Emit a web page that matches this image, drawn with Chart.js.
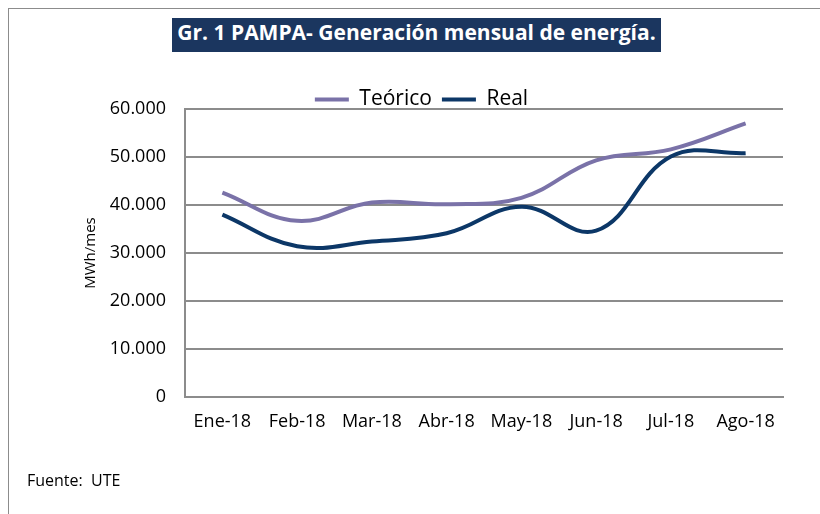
<!DOCTYPE html>
<html>
<head>
<meta charset="utf-8">
<script src="https://cdn.jsdelivr.net/npm/chart.js@4/dist/chart.umd.min.js"></script>
<style>
  body { margin: 0; background: #fff; }
  #wrap { position: relative; width: 820px; height: 514px; overflow: hidden; }
  #frame { position: absolute; left: 8px; top: 8px; width: 900px; height: 600px; border: 1px solid #8c8c8c; }
  #title { position: absolute; left: 172px; top: 18px; width: 489px; height: 34px; line-height: 34px;
    background: #1b365f; color: #fff; font: bold 21px "Open Sans", sans-serif; text-align: center; }
  #source { position: absolute; left: 27px; top: 469px; font: 16px "Open Sans", sans-serif; color: #000; }
  canvas { position: absolute; left: 0; top: 0; }
</style>
</head>
<body>
<div id="wrap">
  <div id="frame"></div>
  <canvas id="gen-chart" width="820" height="514"></canvas>
  <div id="title">Gr. 1 PAMPA- Generación mensual de energía.</div>
  <div id="source">Fuente:&nbsp; UTE</div>
</div>
<script>
// Gr. 1 PAMPA - generacion mensual
var meses = ["Ene-18","Feb-18","Mar-18","Abr-18","May-18","Jun-18","Jul-18","Ago-18"];
var teorico = [42600, 36700, 40500, 40150, 41500, 49300, 51600, 57000];
var real = [38000, 31400, 32400, 34100, 39650, 34650, 50100, 50800];

var font = "'Open Sans', sans-serif";

// moves the legend closer to the plot, like in the original sheet
var legendShift = {
  id: 'legendShift',
  afterLayout: function(chart) {
    var lg = chart.legend;
    lg.left -= 10; lg.right -= 10;
    lg.top += 11; lg.bottom += 11;
  }
};

new Chart(document.getElementById("gen-chart"), {
  type: 'line',
  data: {
    labels: meses,
    datasets: [{
        data: teorico,
        label: "Teórico",
        borderColor: "#7a72a8",
        backgroundColor: "#7a72a8",
        borderWidth: 4,
        tension: 0.4,
        pointRadius: 0,
        fill: false
      }, {
        data: real,
        label: "Real",
        borderColor: "#0c3767",
        backgroundColor: "#0c3767",
        borderWidth: 4,
        tension: 0.4,
        pointRadius: 0,
        fill: false
      }
    ]
  },
  plugins: [legendShift],
  options: {
    responsive: false,
    animation: false,
    layout: { padding: { left: 80, right: 37, top: 68, bottom: 0 } },
    plugins: {
      legend: {
        display: true,
        labels: {
          font: { family: font, size: 21 },
          color: '#000',
          boxWidth: 34,
          boxHeight: 4,
          padding: 10,
          generateLabels: function(chart) {
            return chart.data.datasets.map(function(ds, i) {
              return { text: ds.label, fillStyle: ds.borderColor, strokeStyle: ds.borderColor, lineWidth: 0, datasetIndex: i };
            });
          }
        }
      },
      tooltip: { enabled: false }
    },
    scales: {
      x: {
        offset: true,
        grid: { display: false, drawTicks: false },
        border: { color: '#8c8c8c', width: 2 },
        ticks: { font: { family: font, size: 18 }, color: '#000', padding: 14, maxRotation: 0, autoSkip: false },
        afterFit: function(scale) { scale.height = 117; }
      },
      y: {
        min: 0,
        max: 60000,
        grid: { color: '#8c8c8c', lineWidth: 2, drawTicks: false },
        border: { color: '#8c8c8c', width: 2 },
        title: { display: true, text: 'MWh/mes', font: { family: font, size: 15 }, color: '#000', padding: 2 },
        ticks: {
          stepSize: 10000,
          font: { family: font, size: 18 },
          color: '#000',
          padding: 19,
          callback: function(value) {
            return value.toString().replace(/\B(?=(\d{3})+(?!\d))/g, '.');
          }
        },
        afterFit: function(scale) { scale.width = 105; }
      }
    }
  }
});
</script>
</body>
</html>
